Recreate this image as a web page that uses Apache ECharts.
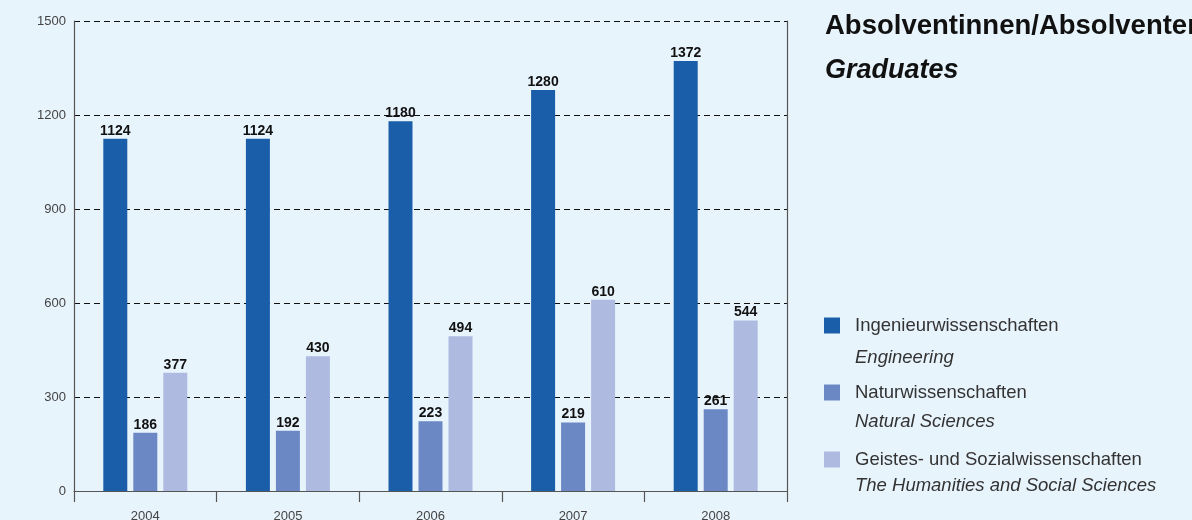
<!DOCTYPE html>
<html>
<head>
<meta charset="utf-8">
<script src="https://cdn.jsdelivr.net/npm/echarts@6/dist/echarts.min.js"></script>
<style>
html,body{margin:0;padding:0;background:#e8f4fc;}
#chart{width:1192px;height:520px;}
</style>
</head>
<body>
<div id="chart"></div>
<script>
const years = ['2004', '2005', '2006', '2007', '2008'];
const seriesNamesDe = ['Ingenieurwissenschaften', 'Naturwissenschaften', 'Geistes- und Sozialwissenschaften'];
const seriesNamesEn = ['Engineering', 'Natural Sciences', 'The Humanities and Social Sciences'];
const engineering = [1124, 1124, 1180, 1280, 1372];
const naturalSciences = [186, 192, 223, 219, 261];
const humanities = [377, 430, 494, 610, 544];
const yTicks = [0, 300, 600, 900, 1200, 1500];
const colors = ['#1a5ea9', '#6b88c4', '#aebae0'];
const titleDe = 'Absolventinnen/Absolventen';
const titleEn = 'Graduates';

const chart = echarts.init(document.getElementById('chart'));
const font = 'Liberation Sans, Arial, sans-serif';
const dataSets = [engineering, naturalSciences, humanities];

const series = dataSets.map((d, i) => ({
  name: seriesNamesDe[i],
  type: 'bar',
  data: d,
  barWidth: 24,
  barGap: '25%',
  itemStyle: { color: colors[i] },
  label: {
    show: true, position: 'top', distance: 1,
    color: '#111', fontWeight: 'bold', fontSize: 14, fontFamily: font
  }
}));

const graphics = [
  { type: 'text', left: 825, top: 12, style: { text: titleDe, font: 'bold 27.5px ' + font, fill: '#111' } },
  { type: 'text', left: 825, top: 57, style: { text: titleEn, font: 'italic bold 27px ' + font, fill: '#111' } }
];
seriesNamesEn.forEach((t, i) => {
  graphics.push({ type: 'text', left: 855, top: 348 + i * 64, style: { text: t, font: 'italic 18.5px ' + font, fill: '#333' } });
});

chart.setOption({
  backgroundColor: '#e8f4fc',
  animation: false,
  grid: { left: 74, right: 405, top: 21, bottom: 29, outerBoundsMode: 'none', containLabel: false },
  legend: {
    orient: 'vertical', left: 824, top: 316, padding: 0,
    itemWidth: 16, itemHeight: 16, itemGap: 48,
    icon: 'rect',
    data: seriesNamesDe,
    textStyle: { fontSize: 18.5, fontFamily: font, color: '#333', lineHeight: 16, padding: [0, 0, 0, 10] }
  },
  xAxis: {
    type: 'category',
    data: years,
    axisLine: { lineStyle: { color: '#555', width: 1.2 } },
    axisTick: { show: true, length: 11, inside: false, lineStyle: { color: '#555', width: 1.2 } },
    axisLabel: { color: '#444', fontSize: 13, fontFamily: font, margin: 19 }
  },
  yAxis: [{
    type: 'value', min: 0, max: 1500, interval: 300,
    axisLine: { show: true, lineStyle: { color: '#555', width: 1.2 } },
    axisTick: { show: false },
    axisLabel: { color: '#444', fontSize: 13, fontFamily: font, margin: 8,
      formatter: v => yTicks.includes(v) ? String(v) : '' },
    splitLine: { show: true, lineStyle: { color: '#111', type: [6, 4], width: 1 } }
  }, {
    type: 'value', min: 0, max: 1500, interval: 300, position: 'right',
    axisLine: { show: true, lineStyle: { color: '#555', width: 1.2 } },
    axisTick: { show: false }, axisLabel: { show: false }, splitLine: { show: false }
  }],
  graphic: graphics,
  series: series
});
</script>
</body>
</html>
